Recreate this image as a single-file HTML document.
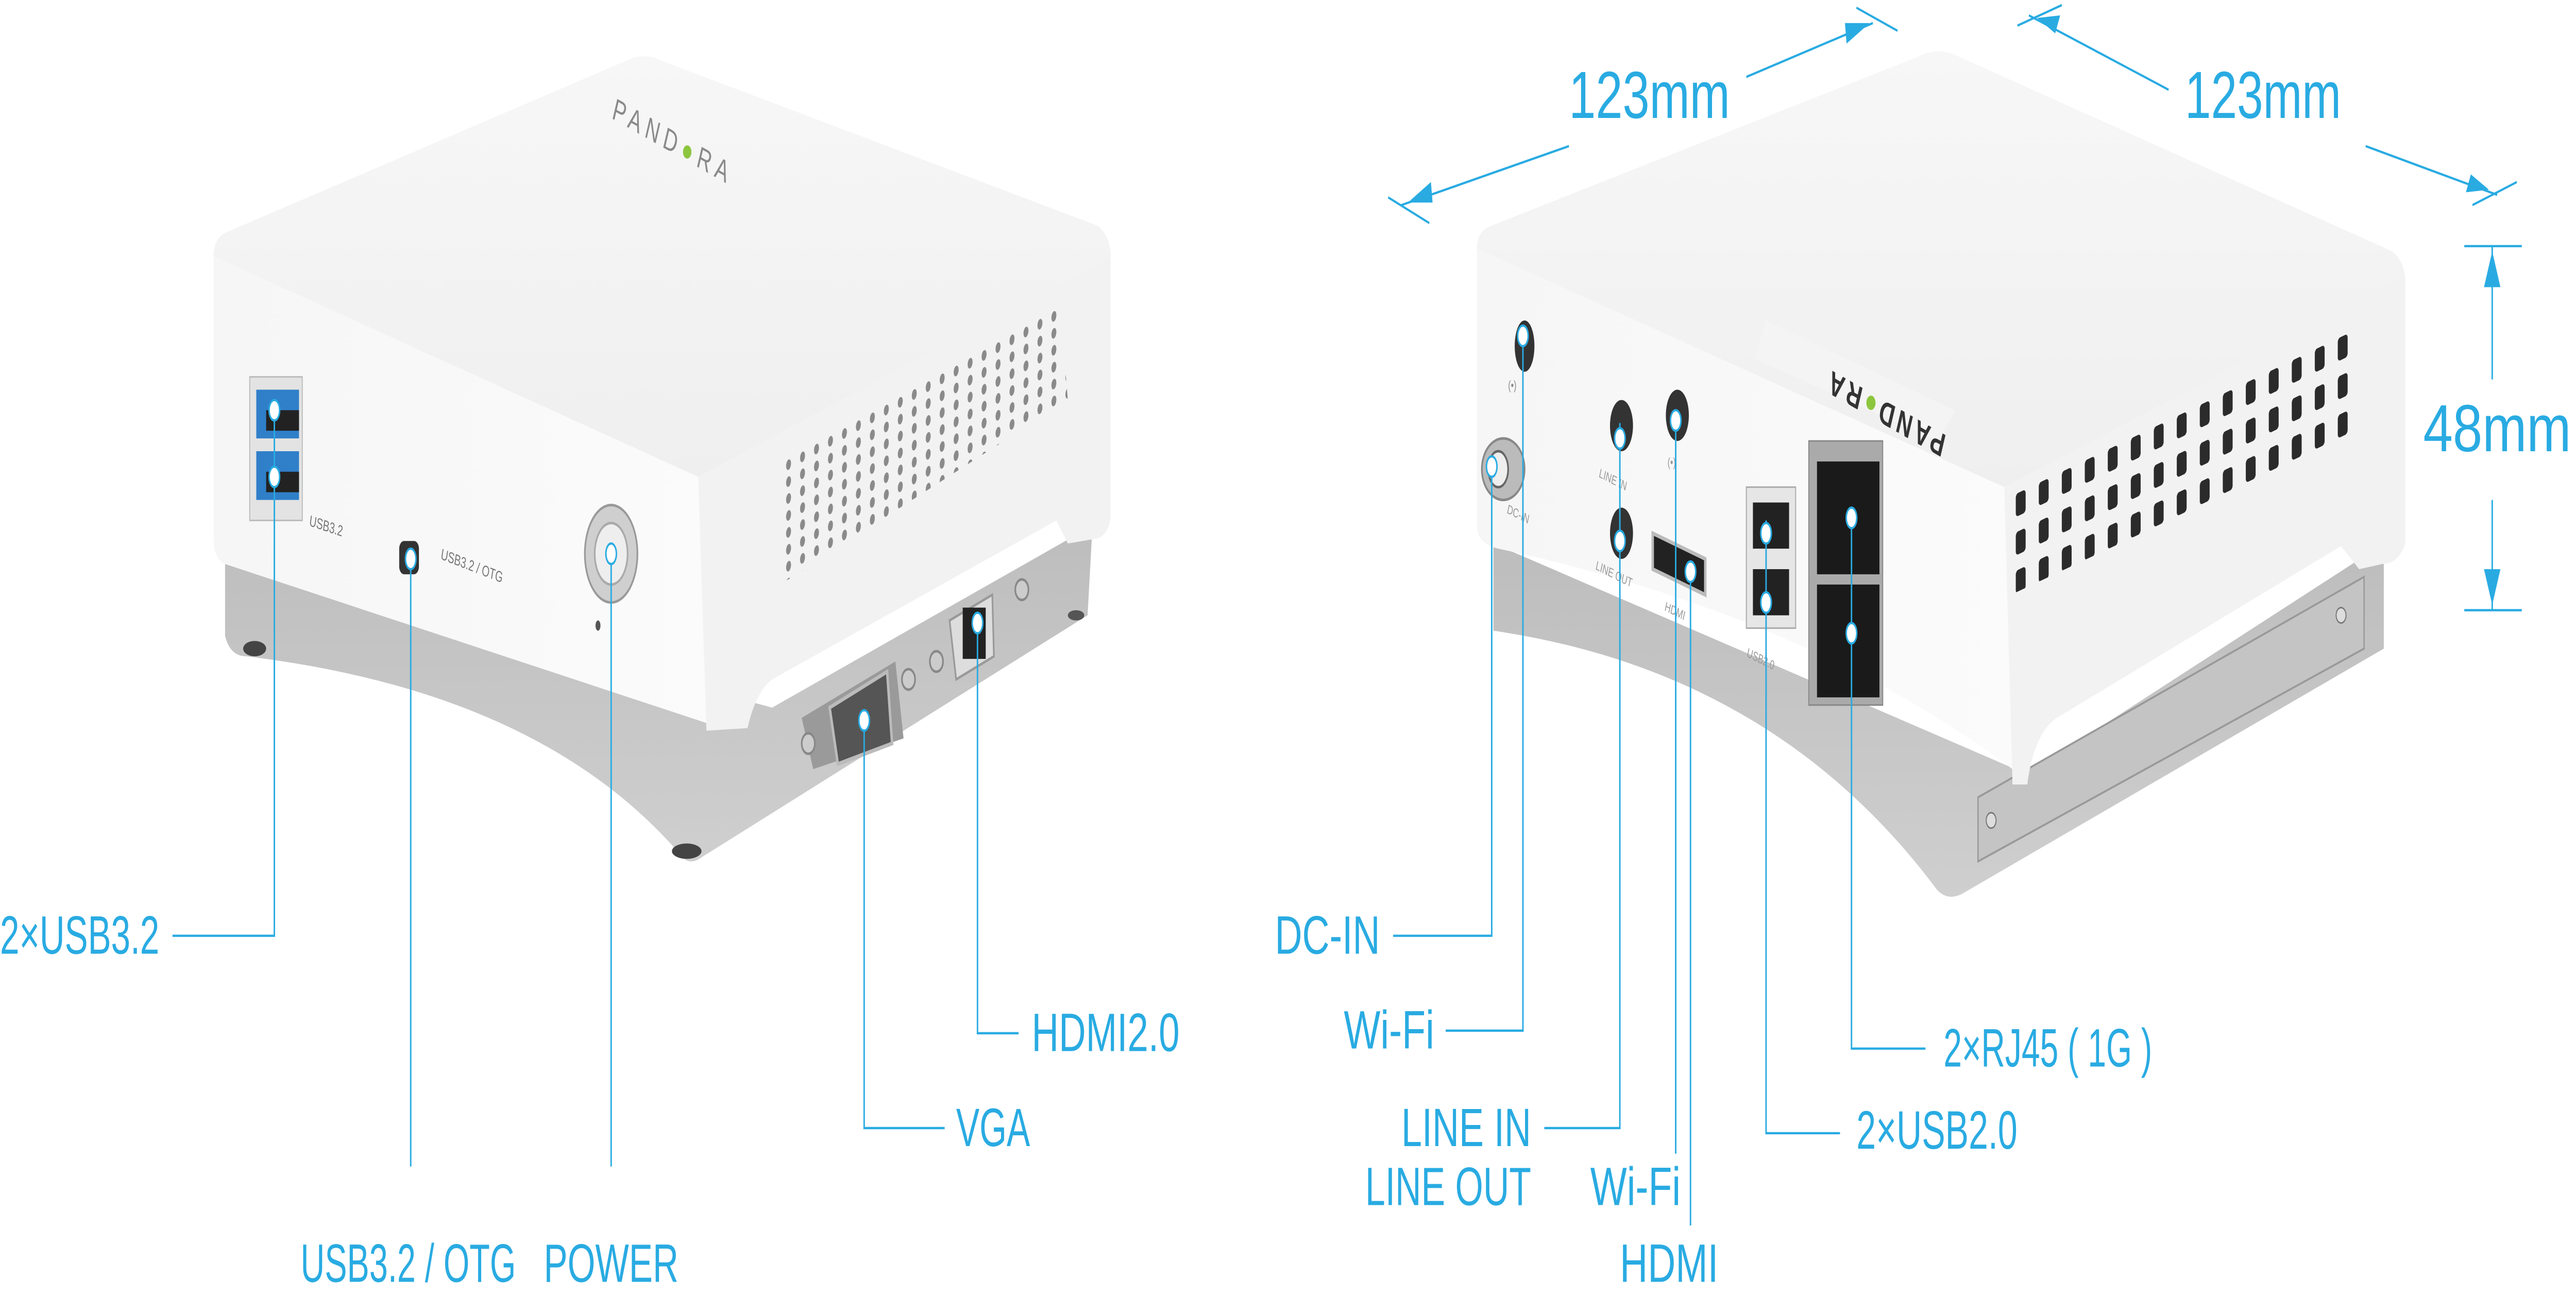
<!DOCTYPE html>
<html><head><meta charset="utf-8"><style>
html,body{margin:0;padding:0;background:#fff;width:100vw;height:100vh;overflow:hidden;}
svg{display:block;position:absolute;left:0;top:0;width:100vw;height:100vh;overflow:hidden;}
.t{font-family:"Liberation Sans",sans-serif;fill:#29abe2;font-size:21px;}
.l{stroke:#29abe2;stroke-width:0.9;fill:none;}
.d{fill:#fff;stroke:#29abe2;stroke-width:0.9;}
</style></head><body>
<svg viewBox="0 0 1568 505.5" preserveAspectRatio="none" xmlns="http://www.w3.org/2000/svg">
<defs>
<linearGradient id="top" x1="0" y1="0" x2="0" y2="1"><stop offset="0" stop-color="#f7f7f7"/><stop offset="1" stop-color="#efefef"/></linearGradient>
<linearGradient id="front" x1="0" y1="0" x2="1" y2="0"><stop offset="0" stop-color="#f6f6f6"/><stop offset="1" stop-color="#fbfbfb"/></linearGradient>
<linearGradient id="base" x1="0" y1="0" x2="0" y2="1"><stop offset="0" stop-color="#bdbdbd"/><stop offset="1" stop-color="#cfcfcf"/></linearGradient>
<pattern id="dots" width="8.5" height="6.6" patternUnits="userSpaceOnUse" patternTransform="skewY(-19.7)">
<ellipse cx="4" cy="3.3" rx="1.5" ry="2" fill="#8a8a8a"/></pattern>
<pattern id="slots" width="14" height="15" patternUnits="userSpaceOnUse" patternTransform="translate(1226,192) skewY(-17.2)">
<rect x="1" y="1" width="6" height="9" rx="1.5" fill="#2b2b2b"/></pattern>
<clipPath id="cv1"><polygon points="475,181 645,118 650,156 475,228"/></clipPath>
<clipPath id="cv2"><polygon points="1224,190 1436,123 1436,168 1224,232"/></clipPath>
</defs>

<path d="M137,218 L137,248 Q140,256 150,256 Q330,270 415,334 Q420,338 428,334 L662,240 L665,205 L470,276 Z" fill="url(#base)"/>
<ellipse cx="155" cy="253" rx="7" ry="3" fill="#444"/>
<ellipse cx="418" cy="332" rx="9" ry="3" fill="#444"/>
<ellipse cx="655" cy="240" rx="5" ry="2" fill="#555"/>
<path d="M130,100 Q130,92 140,90 L380,24 Q392,20 404,24 L668,88 Q676,92 676,100 L425,186 Z" fill="url(#top)"/>
<path d="M130,100 L425,186 L430,282 L137,220 Q130,218 130,210 Z" fill="url(#front)"/>
<path d="M425,186 L676,100 L676,200 Q676,208 668,210 L650,212 L643,203 L470,265 Q460,270 455,284 L430,285 Z" fill="#f2f2f2"/>
<rect x="470" y="110" width="190" height="130" fill="url(#dots)" clip-path="url(#cv1)"/>
<rect x="152" y="147" width="32" height="56" fill="#e3e3e3" stroke="#bbb" stroke-width="0.6"/>
<rect x="156" y="152" width="26" height="19" fill="#2f7fc9"/>
<rect x="156" y="176" width="26" height="19" fill="#2f7fc9"/>
<rect x="162" y="160" width="20" height="8" fill="#222"/>
<rect x="162" y="184" width="20" height="8" fill="#222"/>
<text x="188" y="205" font-family="Liberation Sans,sans-serif" font-size="6" fill="#777" transform="rotate(12 188 205)">USB3.2</text>
<rect x="243" y="211" width="12" height="13" rx="3" fill="#333"/>
<text x="268" y="218" font-family="Liberation Sans,sans-serif" font-size="6" fill="#777" transform="rotate(14 268 218)">USB3.2 / OTG</text>
<ellipse cx="372" cy="216" rx="16" ry="19" fill="#cfcfcf" stroke="#999" stroke-width="1"/>
<ellipse cx="372" cy="216" rx="10" ry="12" fill="#eee" stroke="#aaa" stroke-width="1"/>
<ellipse cx="364" cy="244" rx="1.5" ry="2" fill="#555"/>
<polygon points="488,280 545,258 550,288 495,300" fill="#9a9a9a"/>
<polygon points="505,276 540,262 543,290 510,298" fill="#555" stroke="#bbb" stroke-width="1.5"/>
<polygon points="578,242 604,232 605,256 582,265" fill="#ddd" stroke="#999"/>
<rect x="586" y="237" width="14" height="20" fill="#222"/>
<circle cx="570" cy="258" r="4" fill="#ccc" stroke="#888"/>
<circle cx="622" cy="230" r="4" fill="#ccc" stroke="#888"/>
<circle cx="492" cy="290" r="4" fill="#ccc" stroke="#888"/>
<circle cx="553" cy="265" r="4" fill="#ccc" stroke="#888"/>
<text x="372" y="46" font-family="Liberation Sans,sans-serif" font-size="12" fill="#8a8a8a" letter-spacing="3" transform="rotate(20 372 46)">PAND<tspan fill="#8cc63f">●</tspan>RA</text>

<path d="M909,212 L909,246 Q1080,262 1179,347 Q1186,352 1196,348 L1451,253 L1451,212 L1234,302 Z" fill="url(#base)"/>
<polygon points="1204,311 1439,225 1439,253 1204,336" fill="#c4c4c4" stroke="#999" stroke-width="0.8"/>
<circle cx="1212" cy="320" r="3" fill="#ddd" stroke="#777" stroke-width="0.6"/>
<circle cx="1425" cy="240" r="3" fill="#ddd" stroke="#777" stroke-width="0.6"/>
<path d="M899,97 Q899,90 908,88 L1168,22 Q1180,18 1192,22 L1456,98 Q1464,102 1464,110 L1220,190 Z" fill="url(#top)"/>
<path d="M899,97 L1220,190 L1225,300 Q1100,240 912,214 Q899,212 899,205 Z" fill="url(#front)"/>
<path d="M1220,190 L1464,108 L1464,212 Q1460,220 1450,220 L1436,222 L1425,213 L1252,280 Q1238,286 1234,306 L1225,306 Z" fill="#f2f2f2"/>
<rect x="1220" y="120" width="220" height="120" fill="url(#slots)" clip-path="url(#cv2)"/>
<polygon points="1075,125 1190,160 1180,172 1068,140" fill="#f4f4f4"/>
<text x="1185" y="170" font-family="Liberation Sans,sans-serif" font-size="13" font-weight="bold" fill="#333" letter-spacing="2" transform="rotate(200 1185 170)">PAND<tspan fill="#8cc63f">●</tspan>RA</text>
<ellipse cx="928" cy="135" rx="6" ry="10" fill="#333"/>
<text x="918" y="152" font-family="Liberation Sans,sans-serif" font-size="5" fill="#888">(•)</text>
<ellipse cx="915" cy="183" rx="13" ry="12" fill="#bbb" stroke="#888"/>
<ellipse cx="912" cy="183" rx="6" ry="7" fill="#eee" stroke="#666"/>
<text x="917" y="200" font-family="Liberation Sans,sans-serif" font-size="5" fill="#999" transform="rotate(18 917 200)">DC-IN</text>
<ellipse cx="987" cy="166" rx="7" ry="10" fill="#333"/>
<ellipse cx="987" cy="208" rx="7" ry="10" fill="#333"/>
<text x="973" y="186" font-family="Liberation Sans,sans-serif" font-size="5" fill="#999" transform="rotate(18 973 186)">LINE IN</text>
<text x="971" y="222" font-family="Liberation Sans,sans-serif" font-size="5" fill="#999" transform="rotate(18 971 222)">LINE OUT</text>
<ellipse cx="1021" cy="162" rx="7" ry="10" fill="#333"/>
<text x="1015" y="182" font-family="Liberation Sans,sans-serif" font-size="5" fill="#999">(•)</text>
<polygon points="1006,208 1038,218 1038,232 1006,222" fill="#222" stroke="#bbb" stroke-width="1.5"/>
<text x="1013" y="238" font-family="Liberation Sans,sans-serif" font-size="5" fill="#999" transform="rotate(18 1013 238)">HDMI</text>
<rect x="1063" y="190" width="30" height="55" fill="#e6e6e6" stroke="#aaa" stroke-width="0.6"/>
<rect x="1067" y="196" width="22" height="18" fill="#222"/>
<rect x="1067" y="222" width="22" height="18" fill="#222"/>
<text x="1063" y="256" font-family="Liberation Sans,sans-serif" font-size="5" fill="#999" transform="rotate(18 1063 256)">USB2.0</text>
<rect x="1101" y="172" width="45" height="103" fill="#aaa" stroke="#888" stroke-width="0.6"/>
<rect x="1106" y="180" width="38" height="44" fill="#1a1a1a"/>
<rect x="1106" y="228" width="38" height="44" fill="#1a1a1a"/>

<g class="l">
<polyline points="105,365 167,365 167,160"/>
<line x1="250" y1="218" x2="250" y2="455"/>
<line x1="372" y1="216" x2="372" y2="455"/>
<polyline points="575,440 526,440 526,285"/>
<polyline points="620,403 595,403 595,243"/>
<polyline points="848,365 908,365 908,182"/>
<polyline points="880,402 927,402 927,133"/>
<polyline points="940,440 986,440 986,165"/>
<line x1="1020" y1="160" x2="1020" y2="450"/>
<line x1="1029" y1="220" x2="1029" y2="478"/>
<polyline points="1120,442 1075,442 1075,203"/>
<polyline points="1172,409 1127,409 1127,202"/>
<line x1="853" y1="80" x2="955" y2="57"/>
<line x1="1063" y1="30" x2="1140" y2="9"/>
<line x1="845" y1="77" x2="870" y2="87"/>
<line x1="1130" y1="3" x2="1155" y2="12"/>
<line x1="1235" y1="6" x2="1320" y2="35"/>
<line x1="1440" y1="57" x2="1520" y2="76"/>
<line x1="1228" y1="10" x2="1255" y2="2"/>
<line x1="1505" y1="80" x2="1532" y2="71"/>
<line x1="1517" y1="96" x2="1517" y2="148"/>
<line x1="1517" y1="195" x2="1517" y2="238"/>
<line x1="1500" y1="96" x2="1535" y2="96"/>
<line x1="1500" y1="238" x2="1535" y2="238"/>
</g>
<g fill="#29abe2">
<polygon points="857,79 871,71 872,79"/>
<polygon points="1138,9 1124,17 1123,9"/>
<polygon points="1240,7 1254,6 1251,13"/>
<polygon points="1515,74 1501,75 1504,68"/>
<polygon points="1517,98 1512,112 1522,112"/>
<polygon points="1517,236 1512,222 1522,222"/>
</g>
<g class="d">
<ellipse cx="167" cy="160" rx="3.2" ry="4"/><ellipse cx="167" cy="186" rx="3.2" ry="4"/>
<ellipse cx="250" cy="218" rx="3.2" ry="4"/><ellipse cx="372" cy="216" rx="3.2" ry="4"/>
<ellipse cx="526" cy="281" rx="3.2" ry="4"/><ellipse cx="595" cy="243" rx="3.2" ry="4"/>
<ellipse cx="908" cy="182" rx="3.2" ry="4"/><ellipse cx="927" cy="131" rx="3.2" ry="4"/>
<ellipse cx="986" cy="171" rx="3.2" ry="4"/><ellipse cx="986" cy="211" rx="3.2" ry="4"/>
<ellipse cx="1020" cy="164" rx="3.2" ry="4"/><ellipse cx="1029" cy="223" rx="3.2" ry="4"/>
<ellipse cx="1075" cy="208" rx="3.2" ry="4"/><ellipse cx="1075" cy="235" rx="3.2" ry="4"/>
<ellipse cx="1127" cy="202" rx="3.2" ry="4"/><ellipse cx="1127" cy="247" rx="3.2" ry="4"/>
</g>

<text class="t" x="0" y="372" textLength="97" lengthAdjust="spacingAndGlyphs">2×USB3.2</text>
<text class="t" x="183" y="500" textLength="131" lengthAdjust="spacingAndGlyphs">USB3.2 / OTG</text>
<text class="t" x="331" y="500" textLength="82" lengthAdjust="spacingAndGlyphs">POWER</text>
<text class="t" x="582" y="447" textLength="45" lengthAdjust="spacingAndGlyphs">VGA</text>
<text class="t" x="628" y="410" textLength="90" lengthAdjust="spacingAndGlyphs">HDMI2.0</text>
<text class="t" x="776" y="372" textLength="64" lengthAdjust="spacingAndGlyphs">DC-IN</text>
<text class="t" x="818" y="409" textLength="55" lengthAdjust="spacingAndGlyphs">Wi-Fi</text>
<text class="t" x="853" y="447" textLength="79" lengthAdjust="spacingAndGlyphs">LINE IN</text>
<text class="t" x="831" y="470" textLength="101" lengthAdjust="spacingAndGlyphs">LINE OUT</text>
<text class="t" x="968" y="470" textLength="55" lengthAdjust="spacingAndGlyphs">Wi-Fi</text>
<text class="t" x="986" y="500" textLength="60" lengthAdjust="spacingAndGlyphs">HDMI</text>
<text class="t" x="1130" y="448" textLength="98" lengthAdjust="spacingAndGlyphs">2×USB2.0</text>
<text class="t" x="1183" y="416" textLength="127" lengthAdjust="spacingAndGlyphs">2×RJ45 ( 1G )</text>
<text class="t" x="955" y="46" style="font-size:26px" textLength="98" lengthAdjust="spacingAndGlyphs">123mm</text>
<text class="t" x="1330" y="46" style="font-size:26px" textLength="95" lengthAdjust="spacingAndGlyphs">123mm</text>
<text class="t" x="1475" y="176" style="font-size:26px" textLength="90" lengthAdjust="spacingAndGlyphs">48mm</text>
</svg>
</body></html>
